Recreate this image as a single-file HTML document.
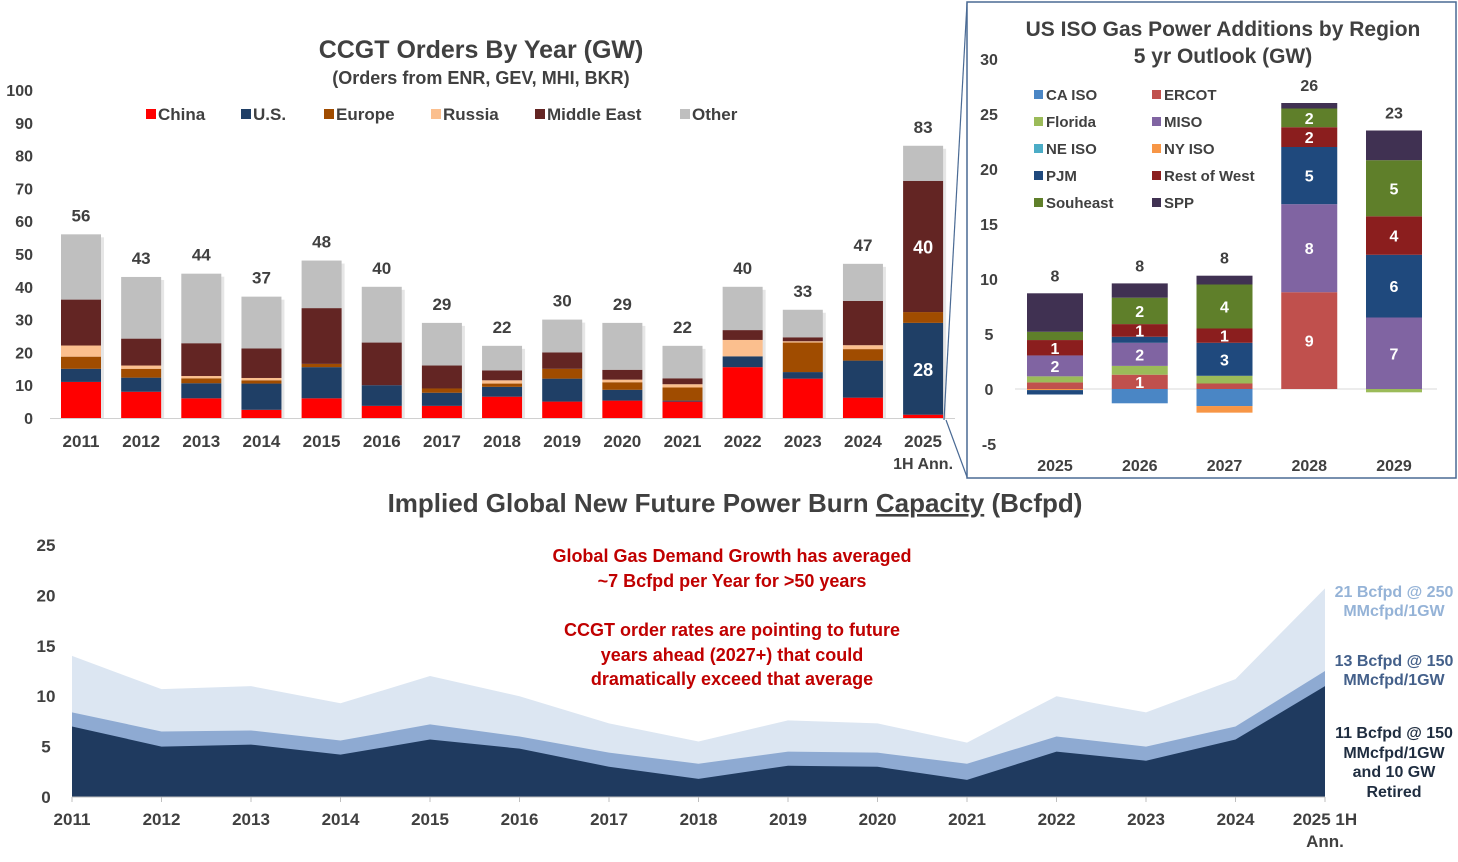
<!DOCTYPE html>
<html><head><meta charset="utf-8"><style>
html,body{margin:0;padding:0;background:#fff;}
svg{display:block;font-family:"Liberation Sans Narrow","Liberation Sans",sans-serif;font-weight:bold;}
</style></head><body>
<svg id="c" width="1458" height="862" viewBox="0 0 1458 862" xmlns="http://www.w3.org/2000/svg">
<g id="top">
<text x="481" y="58" text-anchor="middle" font-size="25" fill="#404040">CCGT Orders By Year (GW)</text>
<text x="481" y="84" text-anchor="middle" font-size="18" fill="#404040">(Orders from ENR, GEV, MHI, BKR)</text>
</g>
<g id="inset">
<rect x="967" y="2" width="489" height="476" fill="#fff" stroke="#4a6a94" stroke-width="1.5"/>
<line x1="967" y1="3" x2="944" y2="420" stroke="#4a6a94" stroke-width="1.2"/>
<line x1="946" y1="420" x2="967" y2="477" stroke="#4a6a94" stroke-width="1.2"/>
<text x="1223" y="36" text-anchor="middle" font-size="21" fill="#404040">US ISO Gas Power Additions by Region</text>
<text x="1223" y="63" text-anchor="middle" font-size="21" fill="#404040">5 yr Outlook (GW)</text>
</g>
<g id="bottom">
<text x="735" y="512" text-anchor="middle" font-size="26" fill="#404040">Implied Global New Future Power Burn <tspan text-decoration="underline">Capacity</tspan> (Bcfpd)</text>
</g>
</svg>
<script>
// ---------- Top chart data ----------
const years = ["2011","2012","2013","2014","2015","2016","2017","2018","2019","2020","2021","2022","2023","2024","2025"];
const totals = [56,43,44,37,48,40,29,22,30,29,22,40,33,47,83];
const china = [11,8,6,2.5,6,3.7,3.7,6.5,5,5.3,5,15.5,12,6.2,1];
const us = [4,4.3,4.6,8,9.5,6.3,4,3,7,3.3,0.3,3.3,2,11.3,28];
const europe = [3.7,2.7,1.5,1,1,0,1.3,1,3,2.3,4,0,9,3.5,3.3];
const russia = [3.4,1,0.7,0.7,0,0,0,1,0,0.8,1,5,0.4,1.2,0];
const middleEast = [14,8.2,10,9,17,13,7,3,5,3,1.8,3,1.2,13.5,40];
const other = [19.9,18.8,21.2,15.8,14.5,17,13,7.5,10,14.3,9.9,13.2,8.4,11.3,10.7];
const topTicks = [0,10,20,30,40,50,60,70,80,90,100];
const topSeriesNames = ["China","U.S.","Europe","Russia","Middle East","Other"];

// ---------- Inset data ----------
const insetYears = ["2025","2026","2027","2028","2029"];
const insetTotals = ["8","8","8","26","23"];
const regions = ["CA ISO","ERCOT","Florida","MISO","NE ISO","NY ISO","PJM","Rest of West","Souheast","SPP"];
const caIso = [0,-1.3,-1.55,0,0];
const ercot = [0.6,1.3,0.5,8.8,0];
const florida = [0.55,0.8,0.7,0,-0.3];
const miso = [1.9,2.1,0,8,6.5];
const neIso = [0,0,0,0,0];
const nyIso = [-0.1,0,-0.6,0,0];
const pjm = [-0.4,0.55,3,5.2,5.7];
const restWest = [1.4,1.15,1.3,1.8,3.5];
const southeast = [0.75,2.4,4,1.7,5.1];
const spp = [3.5,1.3,0.8,0.5,2.7];
const insetTicks = [-5,0,5,10,15,20,25,30];

// ---------- Bottom data ----------
const burnYears = ["2011","2012","2013","2014","2015","2016","2017","2018","2019","2020","2021","2022","2023","2024","2025 1H"];
const burnLow = [7,5,5.2,4.2,5.7,4.8,3,1.8,3.1,3,1.7,4.5,3.6,5.7,11];
const burnMid = [8.4,6.5,6.6,5.6,7.2,6,4.4,3.3,4.5,4.4,3.3,6,5,7,12.5];
const burnHigh = [14,10.7,11,9.3,12,10,7.3,5.5,7.6,7.3,5.4,10,8.4,11.7,20.7];
const burnTicks = [0,5,10,15,20,25];

const NS="http://www.w3.org/2000/svg";
function mk(parent,tag,attrs,text){const e=document.createElementNS(NS,tag);for(const k in attrs)e.setAttribute(k,attrs[k]);if(text!==undefined)e.textContent=text;parent.appendChild(e);return e;}

// ---------- Top chart ----------
(function(){
const g=document.getElementById('top');
const y0=418, pxu=3.28, x0=81, step=60.15, bw=40;
const ys=v=>y0-v*pxu, xs=i=>x0+i*step;
const cols=["#ff0000","#1f3f66","#a04c00","#fbbf8e","#632523","#bfbfbf"];
const series=[china,us,europe,russia,middleEast,other];
topTicks.forEach(t=>{
 const e=mk(g,'text',{x:33,y:ys(t)+6,'text-anchor':'end','font-size':16,fill:'#404040'},String(t));
 
 
});
const ax=mk(g,'line',{x1:50,x2:955,y1:y0+0.5,y2:y0+0.5,stroke:'#d0d0d0','stroke-width':1});


// legend
const lx=[146,241,324,431,535,680];
topSeriesNames.forEach((n,k)=>{
 const r=mk(g,'rect',{x:lx[k],y:109,width:10,height:10,fill:cols[k]});
 
 
 const t=mk(g,'text',{x:lx[k]+12,y:120,'font-size':17,fill:'#404040'},n);
 
 
});
years.forEach((yr,i)=>{
 const x=xs(i)-bw/2;
 let sum=0;series.forEach(s=>sum+=s[i]);
 const sh=mk(g,'rect',{x:x+3,y:ys(sum)+3,width:bw,height:sum*pxu-3,fill:'#e6e6e6'});
 
 
 let acc=0;
 series.forEach((s,k)=>{
  const v=s[i]; if(v<=0) return;
  const r=mk(g,'rect',{x:x,y:ys(acc+v),width:bw,height:v*pxu,fill:cols[k]});
  
  
  acc+=v;
 });
 const lab=mk(g,'text',{x:xs(i),y:ys(sum)-13,'text-anchor':'middle','font-size':17,fill:'#404040'},String(totals[i]));
 
 
 const xl=mk(g,'text',{x:xs(i),y:447,'text-anchor':'middle','font-size':17,fill:'#404040'},yr);
 
 
});
const last=years.length-1;
const an=mk(g,'text',{x:xs(last),y:469,'text-anchor':'middle','font-size':16,fill:'#404040'},'1H Ann.');


const l1=mk(g,'text',{x:xs(last),y:ys(us[last]/2+china[last])+7,'text-anchor':'middle','font-size':18,fill:'#fff'},String(Math.round(us[last])));


const b=china[last]+us[last]+europe[last]+russia[last];
const l2=mk(g,'text',{x:xs(last),y:ys(b+middleEast[last]/2)+7,'text-anchor':'middle','font-size':18,fill:'#fff'},String(Math.round(middleEast[last])));


})();

// ---------- Inset ----------
(function(){
const g=document.getElementById('inset');
const y0=389, pxu=11, x0=1055, step=84.75, bw=56;
const ys=v=>y0-v*pxu, xs=i=>x0+i*step;
const cols=["#4a86c5","#c0504d","#9bbb59","#8064a2","#4bacc6","#f79646","#1f497d","#8b1e1e","#5f7f2a","#403152"];
const series=[caIso,ercot,florida,miso,neIso,nyIso,pjm,restWest,southeast,spp];
insetTicks.forEach(t=>{
 const e=mk(g,'text',{x:989,y:ys(t)+6,'text-anchor':'middle','font-size':16,fill:'#404040'},String(t));
 
 
});
const ax=mk(g,'line',{x1:1015,x2:1437,y1:y0,y2:y0,stroke:'#d8d8d8','stroke-width':1});


regions.forEach((n,k)=>{
 const col=k%2, row=Math.floor(k/2);
 const x=col?1152:1034, y=90+row*27;
 const r=mk(g,'rect',{x:x,y:y,width:9,height:9,fill:cols[k]});
 
 
 const t=mk(g,'text',{x:x+12,y:y+10,'font-size':15,fill:'#404040'},n);
 
 
});
const labelled={1:[1],3:[1],6:[1],7:[1],8:[1]};
insetYears.forEach((yr,i)=>{
 let pos=0,neg=0;
 const x=xs(i)-bw/2;
 series.forEach((s,k)=>{
  const v=s[i]; if(v===0) return;
  let yTop,h;
  if(v>0){yTop=ys(pos+v);h=v*pxu;pos+=v;}else{yTop=ys(neg);h=-v*pxu;neg+=v;}
  const r=mk(g,'rect',{x:x,y:yTop,width:bw,height:h,fill:cols[k]});
  
  
  if(v>=0.9 && k!==9){
   const t=mk(g,'text',{x:xs(i),y:yTop+h/2+6,'text-anchor':'middle','font-size':16,fill:'#fff'},String(Math.round(v)));
   
   
  }
 });
 const lab=mk(g,'text',{x:xs(i),y:ys(pos)-12,'text-anchor':'middle','font-size':16,fill:'#404040'},insetTotals[i]);
 
 
 const xl=mk(g,'text',{x:xs(i),y:471,'text-anchor':'middle','font-size':16,fill:'#404040'},yr);
 
 
});
})();

// ---------- Bottom ----------
(function(){
const g=document.getElementById('bottom');
const y0=797, pxu=10.08, x0=72, step=89.5;
const ys=v=>y0-v*pxu, xs=i=>x0+i*step;
burnTicks.forEach(t=>{
 const e=mk(g,'text',{x:46,y:ys(t)+6,'text-anchor':'middle','font-size':17,fill:'#404040'},String(t));
 
 
});
function area(arr,fill,name){
 let d='M'+xs(0)+','+y0;
 arr.forEach((v,i)=>{d+=' L'+xs(i)+','+ys(v);});
 d+=' L'+xs(arr.length-1)+','+y0+' Z';
 const p=mk(g,'path',{d:d,fill:fill});
 
 
}
area(burnHigh,'#dce6f2','area-250-mmcfpd');
area(burnMid,'#8eaad2','area-150-mmcfpd');
area(burnLow,'#1f3a5f','area-150-retired');
const ax=mk(g,'line',{x1:xs(0),x2:xs(burnYears.length-1),y1:y0,y2:y0,stroke:'#bfbfbf','stroke-width':1});


burnYears.forEach((yr,i)=>{
 const tk=mk(g,'line',{x1:xs(i),x2:xs(i),y1:y0,y2:y0+5,stroke:'#bfbfbf'});
 
 
 const t=mk(g,'text',{x:xs(i),y:825,'text-anchor':'middle','font-size':17,fill:'#404040'},yr);
 
 
});
const ann=mk(g,'text',{x:xs(burnYears.length-1),y:847,'text-anchor':'middle','font-size':17,fill:'#404040'},'Ann.');


const red=[["Global Gas Demand Growth has averaged",562],["~7 Bcfpd per Year for >50 years",587],["CCGT order rates are pointing to future",636],["years ahead (2027+) that could",661],["dramatically exceed that average",685]];
red.forEach((r,k)=>{
 const t=mk(g,'text',{x:732,y:r[1],'text-anchor':'middle','font-size':18,fill:'#c00000'},r[0]);
 
 
});
const side=[["21 Bcfpd @ 250",597,'#95b3d7'],["MMcfpd/1GW",616,'#95b3d7'],["13 Bcfpd @ 150",666,'#44608a'],["MMcfpd/1GW",685,'#44608a'],["11 Bcfpd @ 150",738,'#1f2d40'],["MMcfpd/1GW",758,'#1f2d40'],["and 10 GW",777,'#1f2d40'],["Retired",797,'#1f2d40']];
side.forEach((s,k)=>{
 const t=mk(g,'text',{x:1394,y:s[1],'text-anchor':'middle','font-size':16,fill:s[2]},s[0]);
 
 
});
})();
</script>
</body></html>
